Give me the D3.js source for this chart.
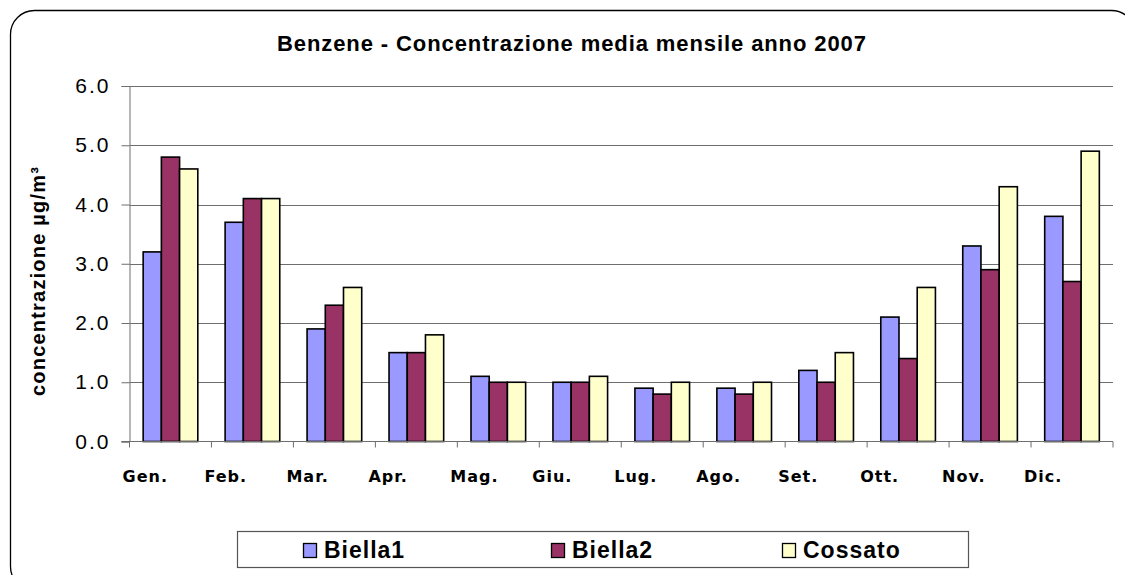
<!DOCTYPE html>
<html>
<head>
<meta charset="utf-8">
<script src="https://cdn.jsdelivr.net/npm/d3@7"></script>
<style>
  body { margin: 0; background: #fff; }
  svg { display: block; }
</style>
</head>
<body>
<div id="chart"></div>
<script>
const months = ["Gen.", "Feb.", "Mar.", "Apr.", "Mag.", "Giu.", "Lug.", "Ago.", "Set.", "Ott.", "Nov.", "Dic."];
const seriesNames = ["Biella1", "Biella2", "Cossato"];
const biella1 = [3.2, 3.7, 1.9, 1.5, 1.1, 1.0, 0.9, 0.9, 1.2, 2.1, 3.3, 3.8];
const biella2 = [4.8, 4.1, 2.3, 1.5, 1.0, 1.0, 0.8, 0.8, 1.0, 1.4, 2.9, 2.7];
const cossato = [4.6, 4.1, 2.6, 1.8, 1.0, 1.1, 1.0, 1.0, 1.5, 2.6, 4.3, 4.9];
const yTicks = [0, 1, 2, 3, 4, 5, 6];

const colors = ["#9999FF", "#993366", "#FFFFCC"];
const gridColor = "#6e6e6e";
const arial = "Liberation Sans, Arial, sans-serif";

const width = 1125;
const height = 575;

const svg = d3
  .select("#chart")
  .append("svg")
  .attr("width", width)
  .attr("height", height);

// outer rounded frame (runs off the bottom/right edge like the original)
svg
  .append("rect")
  .attr("x", 10.5)
  .attr("y", 10.5)
  .attr("width", 1125)
  .attr("height", 580)
  .attr("rx", 24)
  .attr("fill", "#fff")
  .attr("stroke", "#000")
  .attr("stroke-width", 1.3);

const plot = { left: 129.5, right: 1113, top: 86, bottom: 441.5 };

const x = d3.scaleBand().domain(months).range([plot.left, plot.right]).padding(0);
const xs = d3
  .scaleBand()
  .domain(seriesNames)
  .range([0, x.bandwidth()])
  .paddingInner(0)
  .paddingOuter(0.75);
const y = d3.scaleLinear().domain([0, 6]).range([plot.bottom, plot.top]);

// title
svg
  .append("text")
  .attr("x", 277)
  .attr("y", 51)
  .attr("font-family", arial)
  .attr("font-weight", "bold")
  .attr("font-size", 22)
  .attr("textLength", 589)
  .attr("lengthAdjust", "spacing")
  .text("Benzene - Concentrazione media mensile anno 2007");

// y grid + axis
const yAxis = svg
  .append("g")
  .attr("transform", `translate(${plot.left},0)`)
  .call(
    d3
      .axisLeft(y)
      .tickValues(yTicks)
      .tickFormat(d3.format(".1f"))
      .tickSize(8)
      .tickPadding(11)
  );
yAxis.select(".domain").attr("stroke", gridColor);
yAxis.selectAll(".tick line").attr("stroke", gridColor);
yAxis
  .selectAll(".tick text")
  .attr("font-family", arial)
  .attr("font-size", 21)
  .attr("letter-spacing", 2)
  .attr("fill", "#000");

svg
  .append("g")
  .selectAll("line")
  .data(yTicks.filter((d) => d > 0))
  .join("line")
  .attr("x1", plot.left)
  .attr("x2", plot.right)
  .attr("y1", (d) => Math.round(y(d)) + 0.5)
  .attr("y2", (d) => Math.round(y(d)) + 0.5)
  .attr("stroke", gridColor)
  .attr("stroke-width", 1);

// bars
const data = months.map((m, i) => ({
  month: m,
  values: [biella1[i], biella2[i], cossato[i]],
}));

const groups = svg
  .append("g")
  .selectAll("g")
  .data(data)
  .join("g")
  .attr("transform", (d) => `translate(${x(d.month)},0)`);

groups
  .selectAll("rect")
  .data((d) => d.values.map((v, k) => ({ name: seriesNames[k], value: v, k })))
  .join("rect")
  .attr("x", (d) => xs(d.name))
  .attr("y", (d) => y(d.value))
  .attr("width", xs.bandwidth())
  .attr("height", (d) => y(0) - y(d.value))
  .attr("fill", (d) => colors[d.k])
  .attr("stroke", "#000")
  .attr("stroke-width", 1.6);

// x axis
const xAxis = svg
  .append("g")
  .attr("transform", `translate(0,${plot.bottom})`);
xAxis
  .append("line")
  .attr("x1", plot.left - 8)
  .attr("x2", plot.right)
  .attr("stroke", gridColor);
xAxis
  .selectAll("line.tk")
  .data(months.map((m) => x(m)).concat([plot.right]))
  .join("line")
  .attr("class", "tk")
  .attr("x1", (d) => d)
  .attr("x2", (d) => d)
  .attr("y1", 0)
  .attr("y2", 6)
  .attr("stroke", gridColor);
xAxis
  .selectAll("text")
  .data(months)
  .join("text")
  .attr("x", (d) => x(d) - 7)
  .attr("y", 40)
  .attr("font-family", "DejaVu Sans, Verdana, sans-serif")
  .attr("font-weight", "bold")
  .attr("font-size", 16)
  .attr("letter-spacing", 1)
  .text((d) => d);

// y axis title
svg
  .append("text")
  .attr("transform", "translate(45,281) rotate(-90)")
  .attr("text-anchor", "middle")
  .attr("font-family", arial)
  .attr("font-weight", "bold")
  .attr("font-size", 20)
  .attr("letter-spacing", 1.2)
  .text("concentrazione µg/m³");

// legend
const legend = svg.append("g");
legend
  .append("rect")
  .attr("x", 237.5)
  .attr("y", 531.5)
  .attr("width", 731)
  .attr("height", 36)
  .attr("fill", "#fff")
  .attr("stroke", "#555")
  .attr("stroke-width", 1.2);

const legendX = [303, 551, 782];
const items = legend
  .selectAll("g")
  .data(seriesNames)
  .join("g")
  .attr("transform", (d, i) => `translate(${legendX[i]},0)`);
items
  .append("rect")
  .attr("x", 0.5)
  .attr("y", 543.5)
  .attr("width", 13)
  .attr("height", 14)
  .attr("fill", (d, i) => colors[i])
  .attr("stroke", "#000")
  .attr("stroke-width", 1.3);
items
  .append("text")
  .attr("x", 21)
  .attr("y", 558)
  .attr("font-family", arial)
  .attr("font-weight", "bold")
  .attr("font-size", 23)
  .attr("letter-spacing", 1)
  .text((d) => d);
</script>
</body>
</html>
